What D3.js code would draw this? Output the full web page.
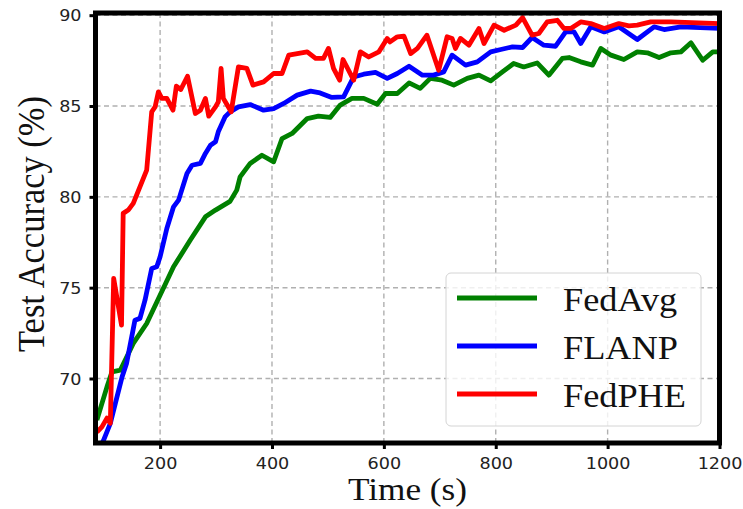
<!DOCTYPE html>
<html>
<head>
<meta charset="utf-8">
<script src="https://cdn.jsdelivr.net/npm/d3@7"></script>
<style>
  body { margin: 0; background: #fff; }
  svg { display: block; }
</style>
</head>
<body>
<div id="chart"></div>
<script>
// values
const xTicks = [200, 400, 600, 800, 1000, 1200];
const yTicks = [70, 75, 80, 85, 90];

const seriesNames = ['FedAvg', 'FLANP', 'FedPHE'];
const seriesColors = ['#008000', '#0000ff', '#ff0000'];

const fedAvgTime = [87, 105, 114, 129, 152, 176, 224, 254, 281, 299, 325, 337, 343, 361, 382, 403, 418, 436, 463, 483,
  504, 522, 543, 564, 588, 603, 624, 645, 665, 683, 704, 725, 749, 770, 791, 812, 832, 850, 874, 895,
  919, 931, 952, 973, 988, 1006, 1029, 1053, 1071, 1092, 1113, 1131, 1149, 1170, 1188, 1200];
const fedAvgAcc = [67.71, 69.54, 70.37, 70.46, 71.93, 73.03, 76.15, 77.62, 78.90, 79.27, 79.75, 80.37, 81.10, 81.84, 82.29, 81.93, 83.21, 83.49, 84.31, 84.44,
  84.37, 85.05, 85.42, 85.42, 85.10, 85.69, 85.69, 86.27, 85.97, 86.52, 86.42, 86.15, 86.52, 86.70, 86.38, 86.88, 87.34, 87.15, 87.37, 86.70,
  87.62, 87.67, 87.43, 87.25, 88.17, 87.80, 87.56, 87.98, 87.93, 87.67, 87.93, 87.98, 88.48, 87.52, 87.98, 87.98];

const flanpTime = [92, 99, 111, 120, 132, 140, 155, 164, 173, 185, 194, 200, 212, 224, 233, 248, 257, 272, 281, 290,
  299, 304, 316, 325, 340, 361, 385, 403, 421, 445, 469, 486, 507, 528, 546, 564, 585, 606, 624, 645,
  669, 689, 707, 722, 746, 767, 791, 809, 830, 848, 865, 886, 907, 925, 940, 952, 970, 994, 1020, 1053,
  1083, 1101, 1131, 1200];
const flanpAcc = [66.2, 66.61, 67.53, 68.63, 70.09, 70.83, 73.21, 73.31, 74.31, 76.06, 76.15, 76.70, 78.26, 79.45, 79.82, 81.29, 81.74, 81.84, 82.39, 82.84,
  83.03, 83.58, 84.40, 84.68, 84.95, 85.08, 84.77, 84.86, 85.14, 85.60, 85.82, 85.72, 85.47, 85.50, 86.60, 86.75, 86.85, 86.52, 86.79, 87.19,
  86.70, 86.70, 86.88, 87.80, 87.25, 87.43, 87.98, 88.11, 88.26, 88.22, 88.77, 88.35, 88.29, 89.08, 89.08, 88.44, 89.36, 89.08, 89.36, 88.66,
  89.36, 89.21, 89.36, 89.27];

const fedPheTime = [87, 96, 105, 111, 117, 131, 134, 143, 152, 176, 185, 191, 197, 203, 212, 223, 229, 237, 249, 263,
  272, 281, 287, 299, 304, 309, 313, 327, 340, 355, 366, 385, 403, 418, 430, 463, 478, 492, 501, 510,
  521, 527, 546, 558, 573, 591, 606, 611, 624, 636, 648, 660, 677, 698, 713, 722, 728, 737, 752, 770,
  779, 797, 815, 836, 848, 865, 877, 892, 910, 922, 934, 952, 970, 994, 1020, 1038, 1053, 1077, 1113, 1200];
const fedPheAcc = [67.05, 67.34, 67.82, 67.54, 75.51, 72.94, 79.09, 79.27, 79.64, 81.47, 84.68, 84.95, 85.78, 85.42, 85.42, 84.77, 86.09, 85.91, 86.64, 84.59,
  84.77, 85.42, 84.44, 84.95, 85.23, 87.07, 85.42, 84.68, 87.15, 87.07, 86.15, 86.33, 86.79, 86.79, 87.80, 87.98, 87.62, 87.62, 88.17, 87.07,
  86.42, 87.56, 86.42, 87.98, 87.70, 87.98, 88.72, 88.53, 88.81, 88.84, 87.89, 88.17, 88.90, 86.97, 88.81, 88.72, 88.17, 88.72, 88.35, 89.27,
  88.44, 89.45, 89.17, 89.45, 89.87, 88.90, 88.99, 89.63, 89.72, 89.27, 89.27, 89.63, 89.54, 89.27, 89.54, 89.41, 89.45, 89.63, 89.63, 89.54];

const seriesData = [
  fedAvgTime.map((t, i) => ({ t, v: fedAvgAcc[i] })),
  flanpTime.map((t, i) => ({ t, v: flanpAcc[i] })),
  fedPheTime.map((t, i) => ({ t, v: fedPheAcc[i] })),
];

const W = 743;
const H = 509;
const plot = { left: 95.5, right: 719.5, top: 13, bottom: 443 };
const STRETCH = 1.1; // the reference is slightly wider than tall
const SERIF = "'Liberation Serif', 'Times New Roman', Times, serif";

const svg = d3.select('#chart').append('svg')
  .attr('width', W)
  .attr('height', H);

const x = d3.scaleLinear().domain([84.5, 1200]).range([plot.left, plot.right]);
const y = d3.scaleLinear().domain([66.45, 90.12]).range([plot.bottom, plot.top]);

svg.append('defs').append('clipPath').attr('id', 'plot-clip')
  .append('rect')
  .attr('x', plot.left)
  .attr('y', plot.top)
  .attr('width', plot.right - plot.left)
  .attr('height', plot.bottom - plot.top);

// grid
const grid = svg.append('g').attr('class', 'grid')
  .attr('stroke', '#b0b0b0')
  .attr('stroke-width', 1.4)
  .attr('stroke-dasharray', '5,3.5');

grid.selectAll('.gx').data(xTicks).join('line')
  .attr('x1', (d) => x(d)).attr('x2', (d) => x(d))
  .attr('y1', plot.top).attr('y2', plot.bottom);

grid.selectAll('.gy').data(yTicks).join('line')
  .attr('x1', plot.left).attr('x2', plot.right)
  .attr('y1', (d) => y(d)).attr('y2', (d) => y(d));

// lines
const line = d3.line().x((d) => x(d.t)).y((d) => y(d.v));

svg.append('g').attr('clip-path', 'url(#plot-clip)')
  .selectAll('path')
  .data(seriesData)
  .join('path')
  .attr('d', line)
  .attr('fill', 'none')
  .attr('stroke', (d, i) => seriesColors[i])
  .attr('stroke-width', 4.8)
  .attr('stroke-linejoin', 'round');

// axes
const xAxis = svg.append('g')
  .attr('transform', `translate(0,${plot.bottom})`)
  .call(d3.axisBottom(x).tickValues(xTicks).tickFormat(d3.format('d')).tickSize(6).tickSizeOuter(0));

const yAxis = svg.append('g')
  .attr('transform', `translate(${plot.left},0)`)
  .call(d3.axisLeft(y).tickValues(yTicks).tickFormat(d3.format('d')).tickSize(6).tickSizeOuter(0));

[xAxis, yAxis].forEach((ax) => {
  ax.select('.domain').remove();
  ax.selectAll('.tick line').attr('stroke', '#000').attr('stroke-width', 3);
  ax.selectAll('.tick text')
    .attr('fill', '#222')
    .style('font-family', "'DejaVu Sans', sans-serif")
    .style('font-size', '16px');
});

xAxis.selectAll('.tick text')
  .attr('y', 0).attr('dy', 0)
  .attr('transform', `translate(0,26) scale(${STRETCH},1)`);

yAxis.selectAll('.tick text')
  .attr('x', 0).attr('dy', '0.36em')
  .attr('transform', `translate(-14,0) scale(${STRETCH},1)`);

// frame
svg.append('rect')
  .attr('x', plot.left)
  .attr('y', plot.top)
  .attr('width', plot.right - plot.left)
  .attr('height', plot.bottom - plot.top)
  .attr('fill', 'none')
  .attr('stroke', '#000')
  .attr('stroke-width', 5);

// axis titles
svg.append('text')
  .attr('transform', `translate(${(plot.left + plot.right) / 2},500) scale(${STRETCH},1)`)
  .attr('text-anchor', 'middle')
  .style('font-family', SERIF)
  .style('font-size', '32px')
  .attr('fill', '#111')
  .text('Time (s)');

svg.append('text')
  .attr('transform', `translate(44,224) scale(${STRETCH},1) rotate(-90)`)
  .attr('text-anchor', 'middle')
  .style('font-family', SERIF)
  .style('font-size', '34.5px')
  .attr('fill', '#111')
  .text('Test Accuracy (%)');

// legend
const legend = svg.append('g');
legend.append('rect')
  .attr('x', 446).attr('y', 273)
  .attr('width', 255).attr('height', 153)
  .attr('rx', 5)
  .attr('fill', '#fff')
  .attr('fill-opacity', 0.8)
  .attr('stroke', '#d4d4d4')
  .attr('stroke-width', 1);

const legendRows = legend.selectAll('.row')
  .data(seriesNames)
  .join('g')
  .attr('transform', (d, i) => `translate(0,${298 + i * 48})`);

legendRows.append('line')
  .attr('x1', 457).attr('x2', 537)
  .attr('y1', 0).attr('y2', 0)
  .attr('stroke', (d, i) => seriesColors[i])
  .attr('stroke-width', 4.8);

legendRows.append('text')
  .attr('transform', `translate(563,13) scale(${STRETCH},1)`)
  .style('font-family', SERIF)
  .style('font-size', '33px')
  .attr('fill', '#111')
  .text((d) => d);
</script>
</body>
</html>
